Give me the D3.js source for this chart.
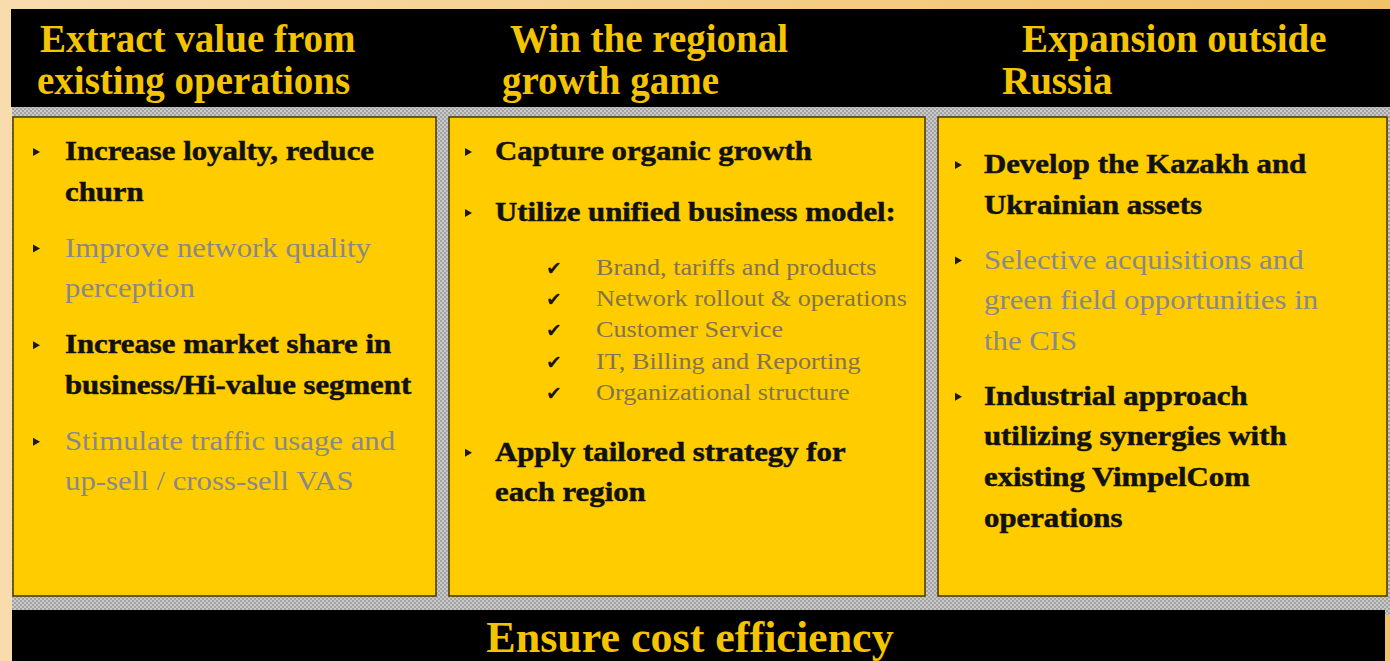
<!DOCTYPE html>
<meta charset="utf-8">
<style>
body { margin: 0; background: #f6d59a; }
svg { display: block; }
.head { font-family: "Liberation Serif", "Times New Roman", serif; font-weight: bold; fill: #f5c400; }
.item { font-family: "Liberation Serif", "Times New Roman", serif; font-weight: bold; font-size: 27px; }
.item.key { fill: #111; stroke: #111; stroke-width: 0.5px; }
.item.soft { fill: #8a8888; font-weight: normal; }
.sub { font-family: "Liberation Serif", "Times New Roman", serif; font-size: 23px; fill: #83744e; }
.check { font-family: "DejaVu Sans", sans-serif; font-size: 19px; fill: #1a1400; }
</style>
<body>
<svg width="1390" height="661"></svg>
<script src="https://cdn.jsdelivr.net/npm/d3@7"></script>
<script>

// Slide content
var headers = [
  ["Extract value from", "existing operations"],
  ["Win the regional", "growth game"],
  ["Expansion outside", "Russia"]
];

var col1Items = [
  {kind: "key",  lines: ["Increase loyalty, reduce", "churn"]},
  {kind: "soft", lines: ["Improve network quality", "perception"]},
  {kind: "key",  lines: ["Increase market share in", "business/Hi-value segment"]},
  {kind: "soft", lines: ["Stimulate traffic usage and", "up-sell / cross-sell VAS"]}
];

var col2Items = [
  {kind: "key", lines: ["Capture organic growth"]},
  {kind: "key", lines: ["Utilize unified business model:"], subs: true},
  {kind: "key", lines: ["Apply tailored strategy for", "each region"]}
];

var modelParts = [
  "Brand, tariffs and products",
  "Network rollout & operations",
  "Customer Service",
  "IT, Billing and Reporting",
  "Organizational structure"
];

var col3Items = [
  {kind: "key",  lines: ["Develop the Kazakh and", "Ukrainian assets"]},
  {kind: "soft", lines: ["Selective acquisitions and", "green field opportunities in", "the CIS"]},
  {kind: "key",  lines: ["Industrial approach", "utilizing synergies with", "existing VimpelCom", "operations"]}
];

var footer = "Ensure cost efficiency";

// Layout
var svg = d3.select("svg");
var W = 1390, H = 661;

var cols = [
  {x0: 13,  x1: 436,  hx: [40, 37],    bullet: 20, text: 52, top: 160, gap: 56, items: col1Items},
  {x0: 449, x1: 925,  hx: [510, 502],  bullet: 16, text: 46, top: 160, gap: 61, items: col2Items},
  {x0: 938, x1: 1387, hx: [1022, 1002], bullet: 17, text: 46, top: 173, gap: 55, items: col3Items}
];

var lineH = 40.6, subH = 31.2, stretch = 1.14;
var panelTop = 117, panelBottom = 596;

var defs = svg.append("defs");

var bg = defs.append("linearGradient").attr("id", "bg").attr("x1", 0).attr("x2", 1).attr("y1", 0).attr("y2", 0);
bg.append("stop").attr("offset", 0).attr("stop-color", "#f8dcae");
bg.append("stop").attr("offset", 1).attr("stop-color", "#f1c267");

var pat = defs.append("pattern").attr("id", "dots")
    .attr("width", 4).attr("height", 4).attr("patternUnits", "userSpaceOnUse");
pat.append("rect").attr("width", 4).attr("height", 4).attr("fill", "#c9c9c9");
pat.append("rect").attr("width", 2).attr("height", 2).attr("fill", "#a3a3a3");
pat.append("rect").attr("x", 2).attr("y", 2).attr("width", 2).attr("height", 2).attr("fill", "#a3a3a3");

svg.append("rect").attr("width", W).attr("height", H).attr("fill", "url(#bg)");

// grey frame behind the panels
svg.append("rect")
    .attr("x", 12).attr("y", 105)
    .attr("width", W - 12).attr("height", 510)
    .attr("fill", "url(#dots)");

// header bar
svg.append("rect")
    .attr("x", 11).attr("y", 9)
    .attr("width", W - 11).attr("height", 98)
    .attr("fill", "#000");

// footer bar
svg.append("rect")
    .attr("x", 12).attr("y", 610)
    .attr("width", 1373).attr("height", H - 610)
    .attr("fill", "#000");

// panels
svg.selectAll(".panel")
  .data(cols)
  .enter().append("rect")
    .attr("class", "panel")
    .attr("x", function(d) { return d.x0; })
    .attr("y", panelTop)
    .attr("width", function(d) { return d.x1 - d.x0; })
    .attr("height", panelBottom - panelTop)
    .attr("fill", "#ffcc00")
    .attr("stroke", "#4a3400")
    .attr("stroke-width", 1.5);

// header titles
cols.forEach(function(c, i) {
  svg.append("g").selectAll("text")
    .data(headers[i])
    .enter().append("text")
      .attr("class", "head")
      .attr("x", function(d, j) { return c.hx[j]; })
      .attr("y", function(d, j) { return 52 + j * 42; })
      .style("font-size", "39px")
      .text(function(d) { return d; });
});

// bullet items
function stretched(sel, x, y) {
  return sel.append("text")
    .attr("transform", "translate(" + x + "," + y + ") scale(" + stretch + ",1)");
}

cols.forEach(function(c) {
  var y = c.top;
  c.items.forEach(function(it) {
    // small triangle bullet
    var bx = c.x0 + c.bullet, by = y - 8;
    svg.append("path")
      .attr("d", d3.line()([[bx, by - 4], [bx + 7, by], [bx, by + 4]]) + "Z")
      .attr("fill", "#1a1a1a");

    it.lines.forEach(function(line, j) {
      stretched(svg, c.x0 + c.text, y + j * lineH)
        .attr("class", "item " + it.kind)
        .text(line);
    });
    y += (it.lines.length - 1) * lineH;

    if (it.subs) {
      var sy = y + 54;
      modelParts.forEach(function(p, k) {
        svg.append("text")
          .attr("class", "check")
          .attr("x", c.x0 + 97)
          .attr("y", sy + k * subH)
          .text("\u2714");
        stretched(svg, c.x0 + 147, sy + k * subH)
          .attr("class", "sub")
          .text(p);
      });
      y = sy + (modelParts.length - 1) * subH;
    }
    y += c.gap;
  });
});

// footer title
svg.append("text")
    .attr("class", "head")
    .attr("x", 690)
    .attr("y", 652)
    .attr("text-anchor", "middle")
    .style("font-size", "44px")
    .text(footer);

</script>
